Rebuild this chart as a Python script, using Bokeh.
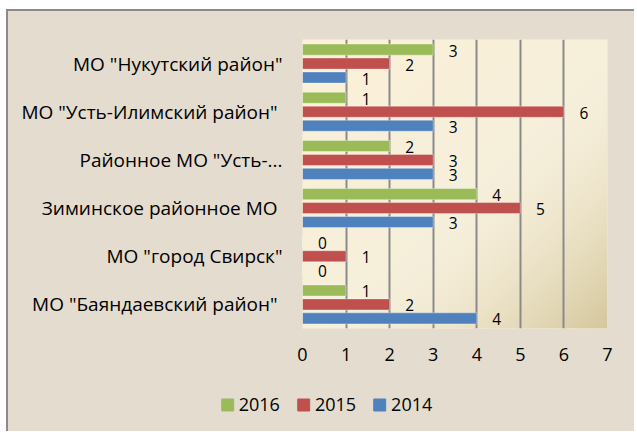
import numpy as np
from bokeh.plotting import figure
from bokeh.layouts import column
from bokeh.models import (ColumnDataSource, FactorRange, Range1d, FixedTicker,
                          Legend, LegendItem)
from bokeh.transform import dodge
from bokeh.core.properties import value
from bokeh.embed import file_html
from bokeh.resources import INLINE

# ---- data (bottom to top) ----
categories = [
    'МО "Баяндаевский  район"',
    'МО "город Свирск"',
    'Зиминское  районное МО',
    'Районное МО "Усть-...',
    'МО "Усть-Илимский  район"',
    'МО "Нукутский район"',
]
v2016 = [1, 0, 4, 2, 1, 3]
v2015 = [2, 1, 5, 3, 6, 2]
v2014 = [4, 0, 3, 3, 3, 1]
series_names = ["2016", "2015", "2014"]
series_colors = ["#9bbb59", "#c0504d", "#4f81bd"]
x_ticks = [0, 1, 2, 3, 4, 5, 6, 7]

FONT = "Open Sans"
BG = "#e4dccf"
W = 626

src = ColumnDataSource(dict(cat=categories, v2016=v2016, v2015=v2015, v2014=v2014))

p = figure(width=W, height=365, output_backend="svg", toolbar_location=None,
           y_range=FactorRange(*categories, range_padding=0),
           x_range=Range1d(0, 7),
           min_border_left=294, min_border_right=W - 599,
           min_border_top=28, min_border_bottom=48)
p.frame_align = False
p.background_fill_color = "#f8efd8"
p.border_fill_color = BG
p.outline_line_color = None

# plot-area gradient (decoration)
n = 120
u = np.linspace(0, 1, n)[None, :]
vv = np.linspace(0, 1, n)[:, None]  # row 0 = bottom
t = (u + (1 - vv)) / 2.0
c0 = np.array([253, 241, 216], dtype=float)
c1 = np.array([246, 239, 219], dtype=float)
c2 = np.array([214, 200, 158], dtype=float)
t1 = np.clip(t / 0.55, 0, 1)[..., None]
t2 = (np.clip((t - 0.55) / 0.45, 0, 1) ** 1.6)[..., None]
col = c0 + (c1 - c0) * t1
col = col + (c2 - col) * t2
img = np.empty((n, n), dtype=np.uint32)
view = img.view(dtype=np.uint8).reshape((n, n, 4))
view[..., 0] = col[..., 0].astype(np.uint8)
view[..., 1] = col[..., 1].astype(np.uint8)
view[..., 2] = col[..., 2].astype(np.uint8)
view[..., 3] = 255
p.image_rgba(image=[img], x=0, y=0, dw=7, dh=len(categories), level="image")

# grid
p.xgrid.ticker = FixedTicker(ticks=x_ticks)
p.xgrid.grid_line_color = "#8a8a8a"
p.xgrid.grid_line_width = 2
p.xgrid.level = "underlay"
p.ygrid.grid_line_color = None

H = 0.23
OFF = 0.29
fields = ["v2016", "v2015", "v2014"]
offsets = [OFF, 0.0, -OFF]
for field, color, off in zip(fields, series_colors, offsets):
    y = dodge("cat", off, range=p.y_range)
    p.hbar(y=y, right=field, left=0, height=H, source=src,
           fill_color=color, line_color="#ffffff", line_alpha=0.35, line_width=1)
    p.text(x=field, y=y, text=field, source=src, x_offset=20, y_offset=1,
           text_align="center", text_baseline="middle",
           text_font=value(FONT), text_font_size="15.5px", text_color="#000000")

# axes
p.xaxis.ticker = FixedTicker(ticks=x_ticks)
p.xaxis.axis_line_color = None
p.xaxis.major_tick_line_color = None
p.xaxis.minor_tick_line_color = None
p.xaxis.major_tick_out = 0
p.xaxis.major_label_standoff = 19
p.xaxis.major_label_text_font = FONT
p.xaxis.major_label_text_font_size = "18px"
p.xaxis.major_label_text_color = "#000000"

p.yaxis.axis_line_color = None
p.yaxis.major_tick_line_color = None
p.yaxis.major_tick_out = 0
p.yaxis.major_label_standoff = 20
p.yaxis.major_label_text_font = FONT
p.yaxis.major_label_text_font_size = "19px"
p.yaxis.major_label_text_color = "#000000"

# legend strip (centred on the whole chart)
q = figure(width=W, height=55, output_backend="svg", toolbar_location=None,
           x_range=Range1d(0, 1), y_range=Range1d(0, 1),
           x_axis_type=None, y_axis_type=None,
           min_border_left=10, min_border_right=W - 10 - 2 * (328 - 8 - 10),
           min_border_top=1, min_border_bottom=0)
q.frame_align = False
q.background_fill_color = BG
q.border_fill_color = BG
q.outline_line_color = None
q.grid.visible = False
nan = float("nan")
dummy = ColumnDataSource(dict(l=[nan], r=[nan], b=[nan], t=[nan]))
items = []
for name, color in zip(series_names, series_colors):
    r = q.quad(left="l", right="r", bottom="b", top="t", source=dummy,
               fill_color=color, line_color=color)
    items.append(LegendItem(label=name, renderers=[r]))
legend = Legend(items=items, orientation="horizontal", location="center",
                glyph_width=15, glyph_height=15, label_standoff=4, spacing=16,
                label_text_font=FONT, label_text_font_size="18px",
                label_text_color="#000000", background_fill_alpha=0,
                border_line_color=None, padding=0, margin=0)
q.add_layout(legend, "center")

layout = column(p, q, spacing=0)
layout.styles = {"border-top": "2px solid #8a8a8a", "border-left": "2px solid #8a8a8a",
                 "background-color": BG, "margin-left": "6px", "margin-top": "9px"}

open("out.html", "w").write(file_html(layout, INLINE))
